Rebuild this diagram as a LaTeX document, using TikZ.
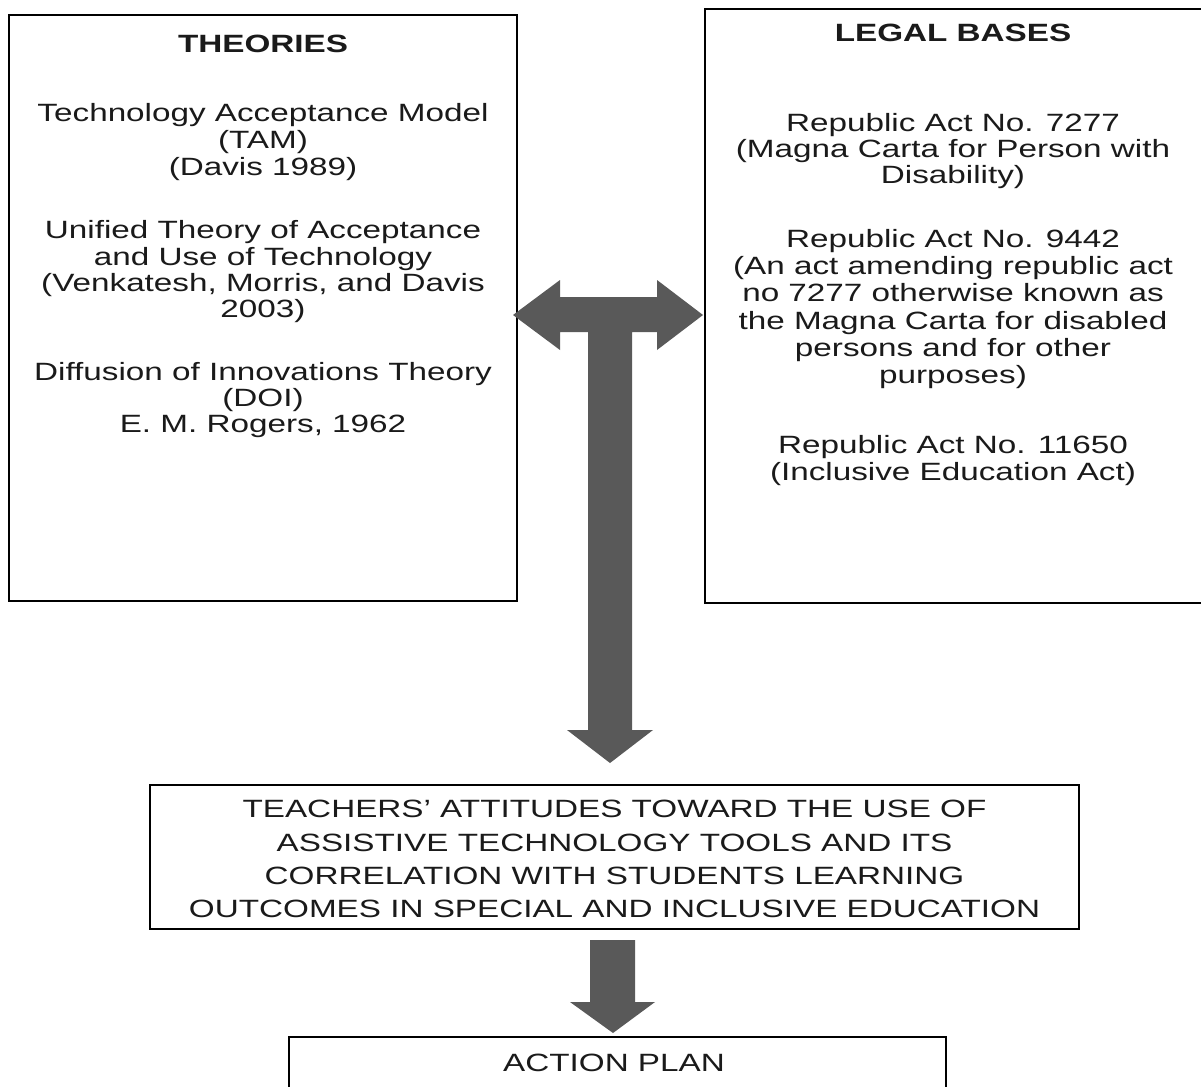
\documentclass[tikz,border=0pt]{standalone}
\usepackage{fontspec}
\setmainfont{Liberation Sans}[FakeStretch=1.33]
\definecolor{arrowgray}{HTML}{595959}
\definecolor{txtcol}{HTML}{1A1A1A}
\begin{document}
\begin{tikzpicture}[x=1pt,y=-1pt,
  box/.style={draw=black, line width=2pt, fill=none, inner sep=0pt},
  line/.style={inner sep=0pt, anchor=base, text=txtcol, font=\fontsize{25}{27}\selectfont}]
\useasboundingbox (0,0) rectangle (1201,1086);
\clip (0,0) rectangle (1201,1086);
\fill[white] (0,0) rectangle (1201,1086);

% boxes
\node[box, minimum width=508pt, minimum height=586pt] (theories) at (263,308) {};
\node[box, minimum width=498pt, minimum height=594pt] (legal) at (954,306) {};
\node[box, minimum width=929pt, minimum height=144pt] (teachers) at (614.5,857) {};
\node[box, minimum width=657pt, minimum height=63pt] (action) at (617.5,1068.5) {};

% T-shaped double arrow
\fill[arrowgray] (513,315) -- (560,280) -- (560,297) -- (657,297) -- (657,280)
  -- (703,315) -- (657,350) -- (657,332) -- (632,332) -- (632,730) -- (653,730)
  -- (610,763) -- (567,730) -- (588,730) -- (588,332) -- (560,332) -- (560,350) -- cycle;

% lower arrow
\fill[arrowgray] (590,940) -- (635,940) -- (635,1002) -- (655,1002) -- (613,1033)
  -- (570,1002) -- (590,1002) -- cycle;

% left texts
\foreach \yb/\txt [count=\i] in {
  53/{\bfseries THEORIES},
  122/{Technology Acceptance Model},
  149/{(TAM)},
  176/{(Davis 1989)},
  238/{Unified Theory of Acceptance},
  265/{and Use of Technology},
  291/{(Venkatesh, Morris, and Davis},
  317/{2003)},
  380/{Diffusion of Innovations Theory},
  406/{(DOI)},
  432/{E. M. Rogers, 1962}}
  \node[line] (th\i) at (263,\yb) {\txt};

% right texts
\foreach \yb/\txt [count=\i] in {
  42/{\bfseries LEGAL BASES},
  132/{Republic Act No. 7277},
  158/{(Magna Carta for Person with},
  184/{Disability)},
  247/{Republic Act No. 9442},
  274/{(An act amending republic act},
  301/{no 7277 otherwise known as},
  329/{the Magna Carta for disabled},
  356/{persons and for other},
  383/{purposes)},
  453/{Republic Act No. 11650},
  480/{(Inclusive Education Act)}}
  \node[line] (lg\i) at (953,\yb) {\txt};

% middle texts
\foreach \yb/\txt [count=\i] in {
  817/{TEACHERS’ ATTITUDES TOWARD THE USE OF},
  851/{ASSISTIVE TECHNOLOGY TOOLS AND ITS},
  884/{CORRELATION WITH STUDENTS LEARNING},
  917/{OUTCOMES IN SPECIAL AND INCLUSIVE EDUCATION}}
  \node[line] (tc\i) at (614.5,\yb) {\txt};

\node[line] (ap) at (614,1071) {ACTION PLAN};
\end{tikzpicture}
\end{document}
